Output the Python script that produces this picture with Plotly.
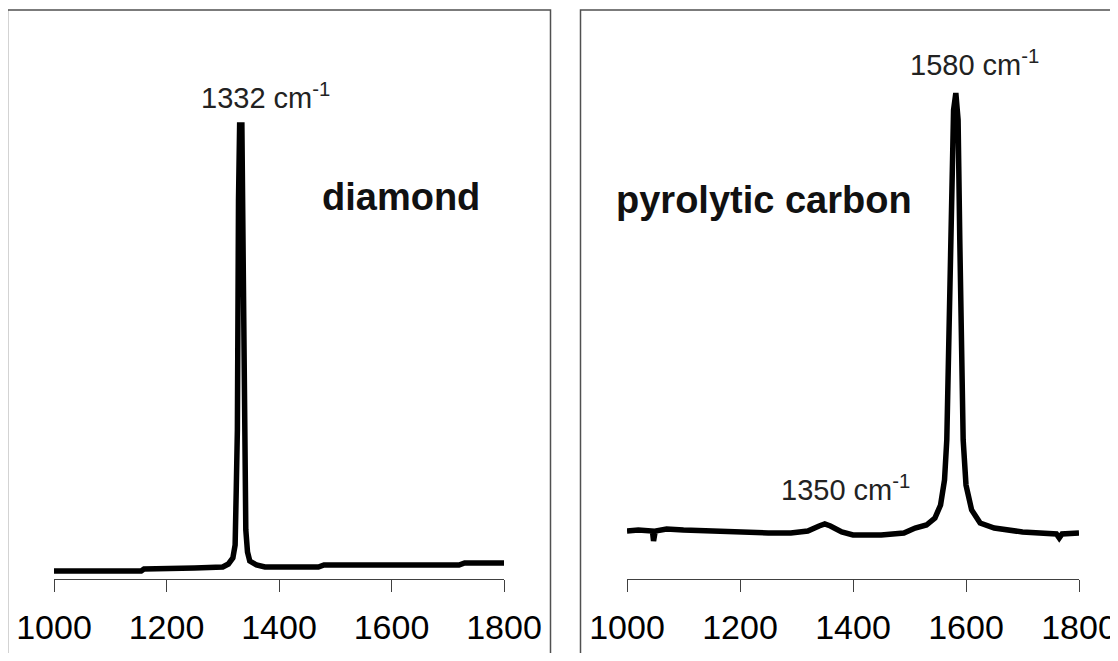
import plotly.graph_objects as go

# ---- data (Raman shift in cm^-1, intensity in arbitrary counts) ----
diamond_shift = [1000, 1100, 1155, 1160, 1195, 1200, 1250, 1300, 1310, 1318, 1322, 1324,
                 1326, 1328, 1330, 1334, 1336, 1337, 1339, 1340, 1341, 1344, 1348, 1360,
                 1375, 1470, 1480, 1720, 1730, 1800]
diamond_int = [80, 80, 80, 100, 100, 110, 110, 120, 150, 210, 340, 890,
               1490, 3790, 4540, 4540, 3590, 2890, 2090, 1290, 490, 270, 180, 140,
               120, 120, 140, 140, 160, 160]

carbon_shift = [1000, 1020, 1045, 1047, 1050, 1070, 1100, 1150, 1200, 1250, 1290, 1320,
                1340, 1350, 1360, 1380, 1400, 1450, 1490, 1510, 1530, 1545, 1555, 1562,
                1566, 1570, 1574, 1578, 1582, 1586, 1589, 1592, 1595, 1600, 1610, 1625,
                1650, 1700, 1760, 1765, 1770, 1800]
carbon_int = [480, 490, 480, 380, 480, 500, 490, 480, 460, 460, 460, 480,
              530, 550, 530, 470, 440, 440, 460, 510, 540, 610, 740, 990,
              1390, 2490, 3790, 4690, 4860, 4590, 3390, 2190, 1390, 940, 690, 560,
              510, 470, 450, 410, 450, 460]

tick_vals = [1000, 1200, 1400, 1600, 1800]
tick_text = ["1000", "1200", "1400", "1600", "1800"]

FONT = "Liberation Sans, Arial, sans-serif"
W, H = 1110, 645
O = 8  # page body offset

fig = go.Figure()
fig.add_trace(go.Scatter(x=diamond_shift, y=diamond_int, mode="lines",
                         line=dict(color="black", width=5.5), xaxis="x", yaxis="y",
                         showlegend=False, hoverinfo="skip"))
fig.add_trace(go.Scatter(x=carbon_shift, y=carbon_int, mode="lines",
                         line=dict(color="black", width=5.5), xaxis="x2", yaxis="y2",
                         showlegend=False, hoverinfo="skip"))

def px(v):
    return (v - O) / W

def py(v):
    return (H - (v - O)) / H

xcommon = dict(range=[1000, 1800], tickvals=tick_vals, ticktext=tick_text,
               showgrid=False, zeroline=False, showline=True, linecolor="#404040",
               linewidth=1, ticks="outside", ticklen=12, tickwidth=1, tickcolor="#404040",
               automargin=False, ticklabelstandoff=6, ticklabeloverflow="allow",
               tickfont=dict(family=FONT, size=34, color="black"))
ycommon = dict(range=[0, 5290], visible=False, showgrid=False, zeroline=False)

fig.update_layout(
    width=W, height=H,
    margin=dict(l=0, r=0, t=0, b=0, pad=0, autoexpand=False),
    paper_bgcolor="white", plot_bgcolor="white",
    xaxis=dict(domain=[px(54), px(504)], anchor="y", **xcommon),
    yaxis=dict(domain=[py(579), py(50)], anchor="x", **ycommon),
    xaxis2=dict(domain=[px(627), px(1079)], anchor="y2", **xcommon),
    yaxis2=dict(domain=[py(579), py(50)], anchor="x2", **ycommon),
    shapes=[
        dict(type="rect", xref="paper", yref="paper", x0=px(7.5), x1=px(550.5),
             y0=py(700), y1=py(10), line=dict(color="#505050", width=1.5)),
        dict(type="rect", xref="paper", yref="paper", x0=px(580.5), x1=px(1160),
             y0=py(700), y1=py(10), line=dict(color="#505050", width=1.5)),
    ],
    annotations=[
        dict(text="1332 cm<sup>-1</sup>", xref="paper", yref="paper", x=px(199), y=py(96),
             xanchor="left", yanchor="middle", showarrow=False,
             font=dict(family=FONT, size=29, color="#222222")),
        dict(text="<b>diamond</b>", xref="paper", yref="paper", x=px(401), y=py(197),
             xanchor="center", yanchor="middle", showarrow=False,
             font=dict(family=FONT, size=38, color="#111111")),
        dict(text="1580 cm<sup>-1</sup>", xref="paper", yref="paper", x=px(908), y=py(63),
             xanchor="left", yanchor="middle", showarrow=False,
             font=dict(family=FONT, size=29, color="#222222")),
        dict(text="1350 cm<sup>-1</sup>", xref="paper", yref="paper", x=px(779), y=py(488),
             xanchor="left", yanchor="middle", showarrow=False,
             font=dict(family=FONT, size=29, color="#222222")),
        dict(text="<b>pyrolytic carbon</b>", xref="paper", yref="paper", x=px(764), y=py(200),
             xanchor="center", yanchor="middle", showarrow=False,
             font=dict(family=FONT, size=38, color="#111111")),
    ],
)

fig.write_html("out.html")
